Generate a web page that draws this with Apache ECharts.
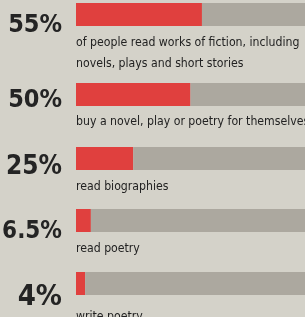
<!DOCTYPE html>
<html>
<head>
<meta charset="utf-8">
<script src="https://cdn.jsdelivr.net/npm/echarts@6/dist/echarts.min.js"></script>
<style>
  html, body { margin: 0; padding: 0; background: #d4d2c9; }
  #chart { width: 305px; height: 317px; }
</style>
</head>
<body>
<div id="chart"></div>
<script>
// data
var pctLabels = ["55%", "50%", "25%", "6.5%", "4%"];
var values = [55, 50, 25, 6.5, 4];
var descriptions = [
  "of people read works of fiction, including\nnovels, plays and short stories",
  "buy a novel, play or poetry for themselves",
  "read biographies",
  "read poetry",
  "write poetry"
];

var narrow = "'Liberation Sans Narrow','DejaVu Sans Condensed',sans-serif";

// layout per row (bar top, big label size / shift, text shift)
var rowTop = [3, 83, 147, 209, 272];
var bigSize = [25, 25, 26, 24, 29];
var bigShift = [22, 12, 18, 22, 28];
var textShift = [6, 5, 6, 6, 11];

var grids = [], xAxes = [], yAxes = [], series = [];
values.forEach(function (v, i) {
  grids.push({ left: 76, right: 0, top: rowTop[i], height: 23, outerBoundsMode: "none", containLabel: false });
  xAxes.push({ gridIndex: i, type: "value", min: 0, max: 100, show: false });
  yAxes.push({
    gridIndex: i,
    type: "category",
    data: [pctLabels[i]],
    axisLine: { show: false },
    axisTick: { show: false },
    axisLabel: {
      margin: 14,
      formatter: function (s) { return "{v|" + s + "}"; },
      rich: {
        v: {
          color: "#242424",
          fontFamily: narrow,
          fontWeight: "bold",
          fontSize: bigSize[i],
          padding: [bigShift[i], 0, 0, 0]
        }
      }
    }
  });
  series.push({
    type: "bar",
    xAxisIndex: i,
    yAxisIndex: i,
    stack: "s" + i,
    barWidth: "100%",
    silent: true,
    itemStyle: { color: "#e0403e" },
    data: [v],
    label: {
      show: true,
      position: [0, "100%"],
      offset: [0, textShift[i]],
      formatter: descriptions[i],
      color: "#222222",
      fontFamily: narrow,
      fontSize: 12.2,
      lineHeight: 21
    }
  });
  series.push({
    type: "bar",
    xAxisIndex: i,
    yAxisIndex: i,
    stack: "s" + i,
    barWidth: "100%",
    silent: true,
    itemStyle: { color: "#aca89f" },
    data: [100 - v]
  });
});

var chart = echarts.init(document.getElementById("chart"));
chart.setOption({
  backgroundColor: "#d4d2c9",
  animation: false,
  grid: grids,
  xAxis: xAxes,
  yAxis: yAxes,
  series: series
});
</script>
</body>
</html>
